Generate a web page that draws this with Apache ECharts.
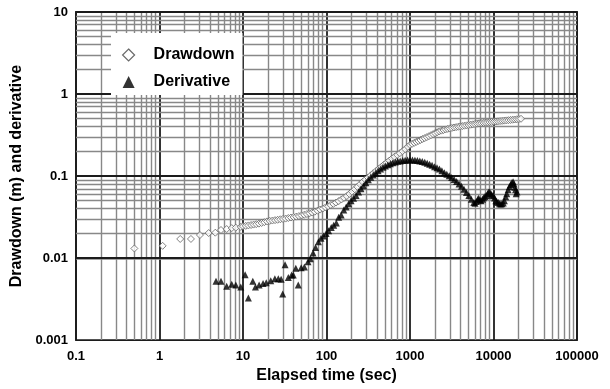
<!DOCTYPE html>
<html>
<head>
<meta charset="utf-8">
<script src="https://cdn.jsdelivr.net/npm/echarts@6/dist/echarts.min.js"></script>
<style>
  html, body { margin: 0; padding: 0; background: #fff; }
  #chart { width: 610px; height: 389px; }
</style>
</head>
<body>
<div id="chart"></div>
<script>
// drawdown (m) vs elapsed time (sec)
const drawdownTime = [
  0.5, 1.09, 1.77, 2.38, 3.05, 3.88, 4.66, 5.45, 6.38, 7.33, 8.2, 9.4,
  10.0, 10.8, 11.6, 12.5, 13.4, 14.4, 15.5, 16.7, 18.0, 19.4, 20.9, 22.5, 24.2, 26.0, 28.0,
  30.1, 32.4, 34.9, 37.5, 40.4, 43.4, 46.7, 50.3, 54.1, 58.2, 62.6, 67.4, 72.5, 78.0, 83.9,
  90.3, 97.2, 104.6, 112.5, 121, 130, 140, 151, 162, 175, 188, 202, 218, 234, 252, 271,
  292, 314, 338, 363, 391, 421, 453, 487, 524, 564, 607, 653, 703, 756, 814, 876, 942,
  1000, 1060, 1125, 1190, 1260, 1335, 1415, 1500, 1590, 1685, 1785, 1890, 2000, 2120, 2245,
  2380, 2520, 2670, 2830, 3000, 3180, 3370, 3570, 3780, 4000, 4240, 4490, 4760, 5040, 5340,
  5660, 6000, 6360, 6730, 7130, 7560, 8000, 8480, 8980, 9510, 10080, 10680, 11310, 11980,
  12690, 13450, 14250, 15100, 16000, 16950, 17950, 19020, 20150, 21350
];
const drawdownValue = [
  0.0131, 0.0141, 0.0171, 0.0171, 0.0191, 0.0202, 0.0204, 0.0220, 0.0226, 0.0232, 0.0235, 0.0240,
  0.0245, 0.0247, 0.0250, 0.0253, 0.0256, 0.0259, 0.0263, 0.0268, 0.0274, 0.0280, 0.0284, 0.0287, 0.0290, 0.0293, 0.0297,
  0.0300, 0.0303, 0.0308, 0.0312, 0.0316, 0.0320, 0.0325, 0.0331, 0.0337, 0.0344, 0.0351, 0.0359, 0.0368, 0.0378, 0.0390,
  0.0402, 0.0415, 0.0428, 0.0443, 0.0458, 0.0475, 0.0495, 0.0518, 0.0543, 0.0570, 0.0605, 0.0645, 0.0690, 0.0740, 0.0795, 0.0850,
  0.0905, 0.0960, 0.1020, 0.1085, 0.1150, 0.1220, 0.1295, 0.1375, 0.1455, 0.1540, 0.1630, 0.1720, 0.1810, 0.1900, 0.2010, 0.2130, 0.2270,
  0.2400, 0.2470, 0.2540, 0.2610, 0.2680, 0.2750, 0.2830, 0.2900, 0.2980, 0.3060, 0.3150, 0.3240, 0.3330, 0.3420, 0.3510,
  0.3580, 0.3640, 0.3700, 0.3760, 0.3810, 0.3860, 0.3910, 0.3950, 0.3990, 0.4030, 0.4070, 0.4110, 0.4150, 0.4190, 0.4230,
  0.4270, 0.4310, 0.4350, 0.4390, 0.4420, 0.4450, 0.4480, 0.4510, 0.4540, 0.4560, 0.4590, 0.4620, 0.4650, 0.4680,
  0.4710, 0.4740, 0.4770, 0.4800, 0.4830, 0.4860, 0.4890, 0.4920, 0.4950, 0.4990
];

// derivative vs elapsed time (sec)
const derivTime = [
  4.75, 5.45, 6.38, 7.33, 8.2, 9.4, 10.6, 11.6, 13.1, 14.1, 15.6, 17.4, 19.0, 21.5, 24.1, 26.5,
  28.6, 29.9, 31.9, 34.9, 38.2, 40, 42.9, 45.9, 49.8, 54.3,
  60, 64, 69, 74, 80, 86, 92, 99, 106, 114, 122, 131, 140, 150, 161, 172, 184, 197, 211, 226,
  242, 259, 277, 296, 317, 339, 363, 388, 415, 444, 475, 508, 544, 582, 623, 667, 713, 763,
  817, 874, 935, 1000, 1070, 1145, 1225, 1311, 1403, 1501, 1606, 1718, 1839, 1967, 2105, 2252,
  2410, 2579, 2759, 2952, 3159, 3380, 3617, 3870, 4141, 4430, 4741, 5072, 5428, 5808, 6000,
  6214, 6500, 6650, 6900, 7115, 7400, 7613, 7900, 8146, 8500, 8716, 9000, 9326, 9600, 9979,
  10300, 10677, 11000, 11425, 11800, 12224, 12600, 13080, 13500, 13996, 14400, 14976, 15500,
  16024, 16600, 17145, 17600, 18000, 18345, 18700, 19100
];
const derivValue = [
  0.0052, 0.0052, 0.00455, 0.0048, 0.0047, 0.00443, 0.00624, 0.00327, 0.0052, 0.00443, 0.0047, 0.0049, 0.0050, 0.0053, 0.0056, 0.0056,
  0.0055, 0.00365, 0.0083, 0.0058, 0.0062, 0.0062, 0.0075, 0.0047, 0.0076, 0.0078,
  0.0090, 0.0098, 0.0115, 0.0135, 0.0158, 0.0175, 0.0186, 0.0200, 0.0215, 0.0236, 0.0252, 0.0268, 0.0315, 0.0335, 0.0385, 0.0420, 0.0460, 0.0500, 0.0535, 0.0580,
  0.0640, 0.0700, 0.0760, 0.0830, 0.0900, 0.0970, 0.1030, 0.1090, 0.1160, 0.1220, 0.1280, 0.1330, 0.1370, 0.1410, 0.1450, 0.1480, 0.1510, 0.1530,
  0.1550, 0.1560, 0.1570, 0.1570, 0.1570, 0.1560, 0.1550, 0.1530, 0.1500, 0.1470, 0.1430, 0.1390, 0.1350, 0.1300, 0.1260, 0.1220,
  0.1160, 0.1100, 0.1050, 0.1010, 0.0960, 0.0910, 0.0860, 0.0800, 0.0750, 0.0690, 0.0630, 0.0580, 0.0520, 0.0475, 0.0465,
  0.0490, 0.0520, 0.0535, 0.0510, 0.0500, 0.0520, 0.0545, 0.0565, 0.0580, 0.0610, 0.0635, 0.0640, 0.0610, 0.0585, 0.0575,
  0.0540, 0.0500, 0.0485, 0.0475, 0.0460, 0.0455, 0.0460, 0.0470, 0.0500, 0.0560, 0.0610, 0.0680, 0.0740,
  0.0790, 0.0830, 0.0850, 0.0800, 0.0730, 0.0680, 0.0610, 0.0640
];

const xTickLabels = ['0.1', '1', '10', '100', '1000', '10000', '100000'];
const yTickLabels = ['0.001', '0.01', '0.1', '1', '10'];

const FONT = 'Liberation Sans, Arial, sans-serif';

// log grid lines (2..9 per decade, then the decades), drawn as mark lines
function gridLines (decades, axis) {
  const out = [];
  decades.slice(0, -1).forEach(function (d) {
    for (let m = 2; m <= 9; m++) {
      const item = { lineStyle: { color: '#888', width: 1.4, type: 'solid' } };
      item[axis] = d * m;
      out.push(item);
    }
  });
  decades.forEach(function (d) {
    const item = { lineStyle: { color: '#1c1c1c', width: 1.8, type: 'solid' } };
    item[axis] = d;
    out.push(item);
  });
  return out;
}
const xDecades = xTickLabels.map(Number);
const yDecades = yTickLabels.map(Number);

const chart = echarts.init(document.getElementById('chart'));
chart.setOption({
  animation: false,
  backgroundColor: '#fff',
  grid: {
    left: 76,
    right: 33,
    top: 12,
    bottom: 43,
    show: true,
    borderColor: '#1c1c1c',
    borderWidth: 1.8,
    backgroundColor: '#fff'
  },
  legend: {
    orient: 'vertical',
    left: 111,
    top: 33,
    z: 10,
    padding: [14, 8, 5, 11],
    itemWidth: 12,
    itemHeight: 12,
    itemGap: 11,
    backgroundColor: '#fff',
    textStyle: {
      fontFamily: FONT,
      fontWeight: 'bold',
      fontSize: 16,
      color: '#000',
      padding: [0, 0, 0, 14]
    },
    data: [
      { name: 'Drawdown', icon: 'diamond', itemStyle: { color: '#fff', borderColor: '#444', borderWidth: 1.2 } },
      { name: 'Derivative', icon: 'triangle', itemStyle: { color: '#000', borderWidth: 0 } }
    ]
  },
  xAxis: {
    type: 'log',
    logBase: 10,
    min: 0.1,
    max: 100000,
    splitNumber: 6,
    name: 'Elapsed time (sec)',
    nameLocation: 'middle',
    nameGap: 26,
    nameTextStyle: { fontFamily: FONT, fontWeight: 'bold', fontSize: 16, color: '#000' },
    axisLine: { show: false },
    axisTick: { show: false },
    splitLine: { show: false },
    axisLabel: {
      margin: 10,
      fontFamily: FONT,
      fontWeight: 'bold',
      fontSize: 13,
      color: '#000',
      formatter: function (value, index) {
        return xTickLabels[index]
      }
    }
  },
  yAxis: {
    type: 'log',
    logBase: 10,
    min: 0.001,
    max: 10,
    splitNumber: 4,
    name: 'Drawdown (m) and derivative',
    nameLocation: 'middle',
    nameGap: 48,
    nameTextStyle: { fontFamily: FONT, fontWeight: 'bold', fontSize: 16, color: '#000' },
    axisLine: { show: false },
    axisTick: { show: false },
    splitLine: { show: false },
    axisLabel: {
      margin: 8,
      fontFamily: FONT,
      fontWeight: 'bold',
      fontSize: 13,
      color: '#000',
      formatter: function (value, index) {
        return yTickLabels[index]
      }
    }
  },
  series: [
    {
      name: 'grid',
      type: 'scatter',
      z: 1,
      data: [],
      silent: true,
      markLine: {
        z: 1,
        silent: true,
        symbol: ['none', 'none'],
        label: { show: false },
        lineStyle: { type: 'solid' },
        emphasis: { disabled: true },
        data: gridLines(xDecades, 'xAxis').concat(gridLines(yDecades, 'yAxis'))
      }
    },
    {
      name: 'Drawdown',
      type: 'scatter',
      z: 3,
      symbol: 'diamond',
      symbolSize: 7,
      itemStyle: { color: '#fff', borderColor: '#636363', borderWidth: 1 },
      data: drawdownTime.map(function (t, i) { return [t, drawdownValue[i]] })
    },
    {
      name: 'Derivative',
      type: 'scatter',
      z: 4,
      symbol: 'triangle',
      symbolSize: 7,
      itemStyle: { color: '#000' },
      data: derivTime.map(function (t, i) { return [t, derivValue[i]] })
    }
  ]
});
</script>
</body>
</html>
